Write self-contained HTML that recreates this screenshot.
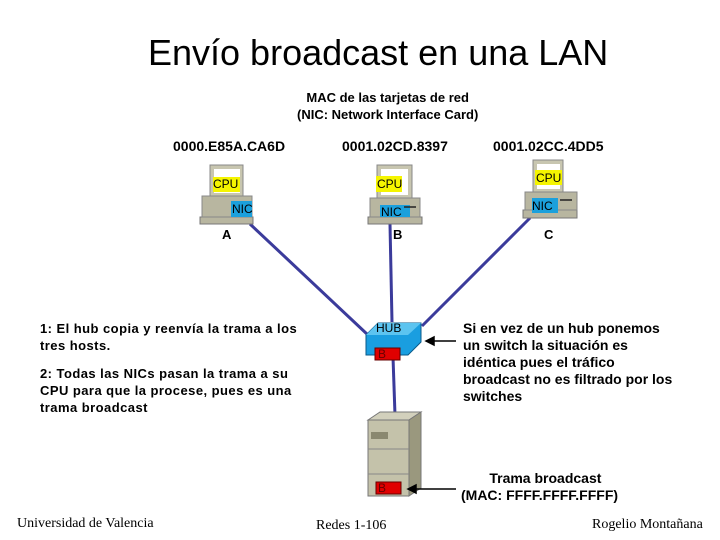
<!DOCTYPE html>
<html><head><meta charset="utf-8"><style>
body{margin:0;background:#fff;}
.t{position:absolute;font-family:"Liberation Sans",sans-serif;color:#000;white-space:nowrap;}
.b{font-weight:bold;font-size:13px;}
</style></head><body>
<div style="position:relative;width:720px;height:540px;overflow:hidden;">
<svg width="720" height="540" style="position:absolute;left:0;top:0">
<g stroke="#3b3b9b" stroke-width="3" fill="none">
<line x1="250" y1="224" x2="368" y2="335"/>
<line x1="390" y1="224" x2="392" y2="322"/>
<line x1="530" y1="218" x2="422" y2="326"/>
<line x1="393" y1="357" x2="395" y2="415"/>
</g>
<g>
<rect x="200" y="217" width="53" height="7" fill="#b8b6a0" stroke="#777"/>
<rect x="202" y="196" width="50" height="21" fill="#b8b6a0" stroke="#888"/>
<rect x="210" y="165" width="33" height="31" fill="#c8c6b0" stroke="#888"/>
<rect x="214" y="169" width="26" height="24" fill="#fff"/>
<rect x="213" y="177" width="27" height="15" fill="#f5f500"/>
<rect x="231" y="201" width="21" height="16" fill="#1ba0dc"/>
</g>
<g>
<rect x="368" y="217" width="54" height="7" fill="#b8b6a0" stroke="#777"/>
<rect x="370" y="198" width="50" height="19" fill="#b8b6a0" stroke="#888"/>
<rect x="377" y="165" width="35" height="33" fill="#c8c6b0" stroke="#888"/>
<rect x="381" y="169" width="27" height="26" fill="#fff"/>
<rect x="376" y="176" width="26" height="16" fill="#f5f500"/>
<rect x="380" y="205" width="30" height="12" fill="#1ba0dc"/>
<line x1="404" y1="207" x2="416" y2="207" stroke="#222" stroke-width="1.5"/>
</g>
<g>
<rect x="523" y="210" width="54" height="8" fill="#b8b6a0" stroke="#777"/>
<rect x="525" y="192" width="52" height="18" fill="#b8b6a0" stroke="#888"/>
<rect x="533" y="160" width="30" height="32" fill="#c8c6b0" stroke="#888"/>
<rect x="537" y="164" width="23" height="25" fill="#fff"/>
<rect x="535" y="170" width="27" height="15" fill="#f5f500"/>
<rect x="532" y="198" width="26" height="15" fill="#1ba0dc"/>
<line x1="560" y1="200" x2="572" y2="200" stroke="#222" stroke-width="1.5"/>
</g>
<polygon points="366,335 378,323 421,323 421,342 408,355 366,355" fill="#1a9ee0" stroke="#0a5a8a"/>
<polygon points="366,335 378,323 421,323 408,335" fill="#5cc4f0"/>
<rect x="375" y="348" width="25" height="12" fill="#e00000" stroke="#600"/>
<polygon points="368,420 380,412 421,412 409,420" fill="#d2d0bc" stroke="#777"/>
<polygon points="409,420 421,412 421,488 409,496" fill="#9a987e" stroke="#777"/>
<rect x="368" y="420" width="41" height="76" fill="#c4c2aa" stroke="#777"/>
<rect x="371" y="432" width="17" height="7" fill="#8a8870"/>
<line x1="368" y1="449" x2="409" y2="449" stroke="#888"/>
<line x1="368" y1="474" x2="409" y2="474" stroke="#888"/>
<rect x="376" y="482" width="25" height="12" fill="#e00000" stroke="#600"/>
<g stroke="#000" stroke-width="1.5" fill="#000">
<line x1="456" y1="341" x2="430" y2="341"/><polygon points="426,341 434,337 434,345"/>
<line x1="456" y1="489" x2="412" y2="489"/><polygon points="408,489 416,485 416,493"/>
</g>
</svg>
<div class="t" style="left:148px;top:32px;font-size:36px;">Envío broadcast en una LAN</div>
<div class="t b" style="left:297px;top:89px;text-align:center;line-height:17px;">MAC de las tarjetas de red<br>(NIC: Network Interface Card)</div>
<div class="t b" style="left:173px;top:138px;font-size:14px;">0000.E85A.CA6D</div>
<div class="t b" style="left:342px;top:138px;font-size:14px;">0001.02CD.8397</div>
<div class="t b" style="left:493px;top:138px;font-size:14px;">0001.02CC.4DD5</div>
<div class="t" style="left:213px;top:177px;font-size:12px;">CPU</div>
<div class="t" style="left:232px;top:202px;font-size:12px;">NIC</div>
<div class="t" style="left:377px;top:177px;font-size:12px;">CPU</div>
<div class="t" style="left:381px;top:205px;font-size:12px;">NIC</div>
<div class="t" style="left:536px;top:171px;font-size:12px;">CPU</div>
<div class="t" style="left:532px;top:199px;font-size:12px;">NIC</div>
<div class="t b" style="left:222px;top:227px;">A</div>
<div class="t b" style="left:393px;top:227px;">B</div>
<div class="t b" style="left:544px;top:227px;">C</div>
<div class="t" style="left:376px;top:321px;font-size:12px;">HUB</div>
<div class="t" style="left:378px;top:347px;font-size:12px;color:#600;">B</div>
<div class="t" style="left:378px;top:481px;font-size:12px;color:#600;">B</div>
<div class="t b" style="left:40px;top:320px;line-height:17px;letter-spacing:0.45px;">1: El hub copia y reenvía la trama a los<br>tres hosts.</div>
<div class="t b" style="left:40px;top:365px;line-height:17px;letter-spacing:0.45px;">2: Todas las NICs pasan la trama a su<br>CPU para que la procese, pues es una<br>trama broadcast</div>
<div class="t b" style="left:463px;top:320px;line-height:17px;font-size:14px;">Si en vez de un hub ponemos<br>un switch la situación es<br>idéntica pues el tráfico<br>broadcast no es filtrado por los<br>switches</div>
<div class="t b" style="left:461px;top:470px;line-height:17px;text-align:center;font-size:14px;">&nbsp;&nbsp;&nbsp;Trama broadcast<br>(MAC: FFFF.FFFF.FFFF)</div>
<div class="t" style="left:17px;top:516px;font-family:'Liberation Serif',serif;font-size:14px;">Universidad de Valencia</div>
<div class="t" style="left:316px;top:518px;font-family:'Liberation Serif',serif;font-size:14px;">Redes 1-106</div>
<div class="t" style="left:592px;top:517px;font-family:'Liberation Serif',serif;font-size:14px;">Rogelio Montañana</div>
</div>
</body></html>
